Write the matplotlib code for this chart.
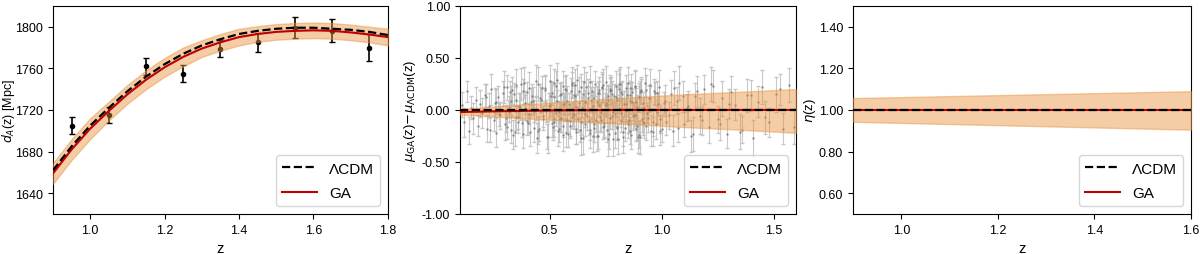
import matplotlib
matplotlib.use('Agg')
import matplotlib.pyplot as plt
from matplotlib.ticker import FormatStrFormatter

plt.rcParams['font.family'] = ['Liberation Sans', 'DejaVu Sans']
plt.rcParams['mathtext.fontset'] = 'dejavusans'

# ---- panel 1: angular diameter distance ----
da_z = [0.95, 1.05, 1.15, 1.25, 1.35, 1.45, 1.55, 1.65, 1.75]
da_obs = [1705, 1715, 1762, 1755, 1779, 1785, 1799, 1796, 1780]
da_err = [8, 8, 8, 8, 8, 9, 10, 11, 13]

zgrid = [0.90, 0.95, 1.00, 1.05, 1.10, 1.15, 1.20, 1.25, 1.30, 1.35,
         1.40, 1.45, 1.50, 1.55, 1.60, 1.65, 1.70, 1.75, 1.80]
da_lcdm = [1662, 1685, 1705, 1722, 1738, 1752, 1764, 1774, 1782, 1788,
           1793, 1796, 1798, 1799, 1799, 1798, 1797, 1795, 1792]
da_ga = [1659, 1682, 1702, 1719, 1735, 1749, 1761, 1771, 1779, 1785,
         1790, 1793, 1795, 1796, 1796.5, 1796, 1794.5, 1792.5, 1790]
da_ga_lo = [1649, 1672, 1692, 1710, 1726, 1740, 1752, 1762, 1771, 1777,
            1782, 1785.5, 1787.5, 1788.5, 1789, 1788.5, 1787, 1785, 1782]
da_ga_hi = [1669, 1692, 1712, 1728, 1744, 1758, 1770, 1780, 1787, 1793,
            1798, 1800.5, 1802.5, 1803.5, 1804, 1803.5, 1802, 1800, 1798]

# ---- panel 2: distance modulus residuals ----
sn_z = [0.11, 0.12, 0.13, 0.14, 0.15, 0.16, 0.17, 0.18, 0.19, 0.20,
        0.21, 0.22, 0.23, 0.24, 0.25, 0.26, 0.26, 0.27, 0.28, 0.29,
        0.30, 0.31, 0.32, 0.33, 0.33, 0.34, 0.35, 0.35, 0.36, 0.37,
        0.38, 0.38, 0.39, 0.40, 0.41, 0.41, 0.42, 0.43, 0.44, 0.45,
        0.45, 0.46, 0.47, 0.48, 0.49, 0.50, 0.50, 0.51, 0.52, 0.52,
        0.53, 0.54, 0.54, 0.55, 0.56, 0.56, 0.57, 0.58, 0.58, 0.59,
        0.60, 0.60, 0.61, 0.62, 0.62, 0.63, 0.64, 0.64, 0.65, 0.66,
        0.66, 0.67, 0.68, 0.68, 0.69, 0.70, 0.70, 0.71, 0.72, 0.72,
        0.73, 0.74, 0.74, 0.75, 0.76, 0.76, 0.77, 0.78, 0.78, 0.79,
        0.80, 0.80, 0.81, 0.82, 0.82, 0.83, 0.84, 0.84, 0.85, 0.86,
        0.86, 0.87, 0.88, 0.88, 0.89, 0.90, 0.90, 0.91, 0.92, 0.92,
        0.93, 0.94, 0.95, 0.96, 0.97, 0.98, 0.99, 1.00, 1.01, 1.02,
        1.04, 1.05, 1.07, 1.08, 1.10, 1.12, 1.13, 1.15, 1.17, 1.19,
        1.21, 1.23, 1.25, 1.27, 1.29, 1.31, 1.33, 1.36, 1.38, 1.41,
        1.43, 1.45, 1.48, 1.51, 1.54, 1.57,
        0.305, 0.325, 0.345, 0.365, 0.385, 0.405, 0.425, 0.445, 0.465, 0.485,
        0.505, 0.515, 0.535, 0.545, 0.565, 0.575, 0.595, 0.605, 0.615, 0.635,
        0.645, 0.655, 0.675, 0.685, 0.695, 0.715, 0.725, 0.735, 0.745, 0.755,
        0.765, 0.775, 0.785, 0.795, 0.805, 0.815, 0.825, 0.835, 0.845, 0.855,
        0.865, 0.875, 0.885, 0.895, 0.905, 0.915, 0.925, 0.935, 0.945, 0.955,
        0.965, 0.975, 0.985, 0.995,
        0.215, 0.235, 0.255, 0.275, 0.295, 0.312, 0.318, 0.332, 0.338, 0.352,
        0.358, 0.372, 0.378, 0.392, 0.398, 0.412, 0.418, 0.432, 0.438, 0.452,
        0.458, 0.472, 0.478, 0.492, 0.498, 0.512, 0.518, 0.522, 0.528, 0.532,
        0.538, 0.548, 0.552, 0.558, 0.562, 0.568, 0.572, 0.582, 0.588, 0.592,
        0.598, 0.608, 0.612, 0.618, 0.622, 0.628, 0.632, 0.642, 0.648, 0.652,
        0.658, 0.662, 0.668, 0.672, 0.682, 0.688, 0.692, 0.698, 0.702, 0.708,
        0.712, 0.718, 0.722, 0.728, 0.732, 0.742, 0.748, 0.752, 0.758, 0.762,
        0.768, 0.772, 0.782, 0.788, 0.792, 0.798, 0.802, 0.808, 0.812, 0.818,
        0.822, 0.828, 0.832, 0.842, 0.848, 0.852, 0.858, 0.862, 0.868, 0.872,
        0.882, 0.888, 0.892, 0.898, 0.902, 0.908, 0.912, 0.918, 0.932, 0.948,
        0.962, 0.978, 0.992, 1.015, 1.035, 1.055, 1.075, 1.095, 1.115, 1.14,
        1.16, 1.18, 1.22, 1.26, 1.30, 1.35, 1.40, 1.46, 1.53, 1.59]
sn_dmu = [0.05, -0.12, 0.18, -0.20, 0.02, -0.08, 0.10, -0.15, 0.06, -0.03,
          0.14, -0.18, 0.04, 0.20, -0.10, 0.08, -0.22, 0.12, -0.05, 0.16,
          -0.14, 0.22, -0.02, 0.09, -0.19, 0.15, -0.07, 0.24, -0.12, 0.03,
          0.18, -0.23, 0.07, -0.11, 0.21, -0.04, 0.13, -0.17, 0.01, 0.25,
          -0.20, 0.10, -0.06, 0.19, -0.26, 0.05, 0.28, -0.13, 0.12, -0.09,
          0.23, -0.02, -0.18, 0.15, 0.06, -0.24, 0.20, -0.10, 0.09, -0.15,
          0.26, -0.07, 0.14, -0.21, 0.03, 0.18, -0.12, 0.22, -0.27, 0.08,
          -0.04, 0.16, -0.19, 0.27, 0.01, -0.14, 0.11, -0.25, 0.19, 0.05,
          -0.10, 0.24, -0.16, 0.07, -0.28, 0.13, 0.20, -0.06, 0.15, -0.22,
          0.10, -0.17, 0.25, -0.03, 0.17, -0.26, 0.06, 0.21, -0.11, 0.14,
          -0.20, 0.08, -0.05, 0.23, -0.15, 0.12, -0.24, 0.18, 0.02, -0.13,
          0.19, -0.08, 0.11, -0.21, 0.16, -0.02, 0.22, -0.18, 0.07, -0.12,
          0.15, -0.20, 0.09, 0.26, -0.14, 0.04, -0.25, 0.13, -0.06, 0.20,
          -0.16, 0.23, -0.09, 0.11, -0.23, 0.17, 0.05, -0.19, 0.14, -0.27,
          0.08, 0.22, -0.12, 0.15, -0.18, 0.24,
          -0.08, 0.17, -0.21, 0.04, 0.26, -0.13, 0.09, -0.27, 0.21, -0.01,
          0.13, -0.16, 0.29, -0.09, 0.06, -0.22, 0.18, -0.04, 0.24, -0.19,
          0.02, 0.27, -0.11, 0.10, -0.25, 0.16, -0.07, 0.22, -0.15, 0.05,
          -0.23, 0.19, -0.02, 0.12, -0.28, 0.25, 0.01, -0.17, 0.14, -0.10,
          0.21, -0.05, 0.08, -0.26, 0.17, -0.12, 0.26, -0.03, 0.11, -0.20,
          0.18, -0.14, 0.06, -0.09,
          0.12, -0.19, 0.07, -0.04, 0.22, -0.16, 0.03, 0.19, -0.24, 0.10,
          -0.07, 0.25, -0.13, 0.02, 0.17, -0.21, 0.08, -0.01, 0.28, -0.18,
          0.11, -0.09, 0.21, -0.26, 0.04, 0.16, -0.12, 0.26, -0.03, 0.09,
          -0.20, 0.14, -0.08, 0.23, -0.15, 0.01, 0.19, -0.23, 0.06, -0.11,
          0.24, -0.05, 0.13, -0.18, 0.29, -0.09, 0.07, -0.27, 0.15, 0.00,
          -0.14, 0.22, -0.06, 0.11, -0.22, 0.18, 0.04, -0.17, 0.25, -0.10,
          0.08, -0.25, 0.16, -0.02, 0.21, -0.13, 0.05, 0.27, -0.19, 0.10,
          -0.08, 0.18, -0.28, 0.13, -0.04, 0.23, -0.16, 0.02, 0.20, -0.11,
          0.15, -0.21, 0.06, -0.01, 0.26, -0.14, 0.09, -0.24, 0.17, -0.06,
          0.22, -0.18, 0.03, 0.12, -0.26, 0.19, -0.09, 0.07, -0.15, 0.24,
          -0.12, 0.16, -0.20, 0.09, -0.05, 0.21, -0.17, 0.13, 0.02, -0.23,
          0.18, -0.10, 0.25, -0.14, 0.06, -0.21, 0.14, -0.07, 0.20, -0.16]
sn_err = [0.12, 0.14, 0.10, 0.13, 0.11, 0.15, 0.12, 0.10, 0.13, 0.14,
          0.11, 0.13, 0.12, 0.15, 0.10, 0.12, 0.14, 0.11, 0.13, 0.12,
          0.15, 0.12, 0.10, 0.14, 0.13, 0.11, 0.12, 0.15, 0.10, 0.13,
          0.12, 0.14, 0.11, 0.13, 0.15, 0.10, 0.12, 0.14, 0.11, 0.16,
          0.13, 0.12, 0.10, 0.14, 0.12, 0.11, 0.15, 0.13, 0.12, 0.10,
          0.14, 0.11, 0.13, 0.12, 0.10, 0.15, 0.13, 0.11, 0.14, 0.12,
          0.15, 0.10, 0.13, 0.12, 0.11, 0.14, 0.12, 0.13, 0.15, 0.11,
          0.12, 0.14, 0.10, 0.15, 0.13, 0.12, 0.11, 0.14, 0.13, 0.10,
          0.11, 0.15, 0.12, 0.13, 0.16, 0.10, 0.14, 0.12, 0.13, 0.15,
          0.12, 0.11, 0.14, 0.13, 0.10, 0.15, 0.12, 0.13, 0.11, 0.14,
          0.13, 0.12, 0.10, 0.15, 0.14, 0.11, 0.13, 0.12, 0.10, 0.14,
          0.15, 0.13, 0.12, 0.14, 0.11, 0.12, 0.16, 0.13, 0.10, 0.12,
          0.14, 0.15, 0.13, 0.16, 0.12, 0.14, 0.15, 0.13, 0.17, 0.14,
          0.16, 0.15, 0.13, 0.17, 0.14, 0.16, 0.15, 0.13, 0.16, 0.17,
          0.15, 0.16, 0.14, 0.17, 0.15, 0.16,
          0.13, 0.11, 0.14, 0.12, 0.15, 0.10, 0.13, 0.14, 0.12, 0.11,
          0.15, 0.13, 0.16, 0.12, 0.10, 0.14, 0.13, 0.11, 0.15, 0.12,
          0.10, 0.14, 0.13, 0.12, 0.15, 0.11, 0.13, 0.14, 0.12, 0.10,
          0.15, 0.13, 0.11, 0.12, 0.14, 0.16, 0.10, 0.13, 0.12, 0.11,
          0.14, 0.12, 0.13, 0.15, 0.11, 0.12, 0.14, 0.10, 0.13, 0.15,
          0.12, 0.14, 0.11, 0.13,
          0.13, 0.12, 0.14, 0.11, 0.15, 0.12, 0.10, 0.13, 0.14, 0.12,
          0.11, 0.15, 0.13, 0.12, 0.10, 0.14, 0.13, 0.11, 0.15, 0.12,
          0.14, 0.10, 0.13, 0.15, 0.12, 0.11, 0.14, 0.13, 0.12, 0.10,
          0.15, 0.12, 0.13, 0.14, 0.11, 0.12, 0.15, 0.13, 0.10, 0.14,
          0.12, 0.13, 0.11, 0.15, 0.14, 0.12, 0.10, 0.16, 0.13, 0.12,
          0.11, 0.14, 0.13, 0.12, 0.15, 0.10, 0.13, 0.14, 0.12, 0.11,
          0.15, 0.13, 0.12, 0.10, 0.14, 0.13, 0.11, 0.15, 0.12, 0.14,
          0.10, 0.13, 0.16, 0.12, 0.11, 0.14, 0.13, 0.12, 0.15, 0.10,
          0.13, 0.14, 0.12, 0.11, 0.15, 0.13, 0.12, 0.14, 0.10, 0.13,
          0.15, 0.12, 0.11, 0.14, 0.16, 0.13, 0.12, 0.10, 0.14, 0.15,
          0.13, 0.12, 0.14, 0.15, 0.13, 0.16, 0.14, 0.15, 0.13, 0.16,
          0.15, 0.14, 0.16, 0.15, 0.14, 0.17, 0.15, 0.16, 0.15, 0.17]

mu_zgrid = [0.1, 0.3, 0.5, 0.7, 0.9, 1.1, 1.3, 1.6]
mu_ga = [-0.02, -0.012, -0.005, -0.002, 0.0, 0.0, 0.0, 0.0]
mu_ga_lo = [-0.045, -0.07, -0.095, -0.12, -0.14, -0.165, -0.185, -0.22]
mu_ga_hi = [0.01, 0.04, 0.07, 0.10, 0.125, 0.15, 0.17, 0.20]
mu_lcdm = [0, 0, 0, 0, 0, 0, 0, 0]

# ---- panel 3: eta ----
eta_z = [0.9, 1.6]
eta_ga = [1.0, 1.0]
eta_lo = [0.943, 0.905]
eta_hi = [1.057, 1.09]
eta_lcdm = [1.0, 1.0]

band = dict(color='#e8913a', alpha=0.45, lw=1)

fig = plt.figure(figsize=(12, 2.55), dpi=100)
ax1 = fig.add_axes([0.0442, 0.157, 0.279, 0.816])
ax2 = fig.add_axes([0.3833, 0.157, 0.280, 0.816])
ax3 = fig.add_axes([0.7108, 0.157, 0.2817, 0.816])

# panel 1
ax1.errorbar(da_z, da_obs, yerr=da_err, fmt='o', color='k', ms=3,
             capsize=2, elinewidth=1.2, zorder=2)
ax1.fill_between(zgrid, da_ga_lo, da_ga_hi, zorder=3, **band)
ax1.plot(zgrid, da_ga, color='#c00000', lw=1.5, label='GA', zorder=4)
ax1.plot(zgrid, da_lcdm, 'k--', lw=1.6, label='ΛCDM', zorder=5)
ax1.set_xlim(0.9, 1.8)
ax1.set_ylim(1620, 1820)
ax1.set_yticks([1640, 1680, 1720, 1760, 1800])
ax1.set_xticks([1.0, 1.2, 1.4, 1.6, 1.8])
ax1.xaxis.set_major_formatter(FormatStrFormatter('%.1f'))
ax1.set_ylabel(r'$d_A$(z) [Mpc]', fontsize=9)
ax1.yaxis.set_label_coords(-0.108, 0.5)

# panel 2
ax2.errorbar(sn_z, sn_dmu, yerr=sn_err, fmt='.', color='gray', ms=1.5,
             ecolor='#bcbcbc', elinewidth=0.8, capsize=1.5, alpha=0.8, zorder=2)
ax2.fill_between(mu_zgrid, mu_ga_lo, mu_ga_hi, zorder=3, **band)
ax2.plot(mu_zgrid, mu_ga, color='#c00000', lw=1.5, label='GA', zorder=4)
ax2.plot(mu_zgrid, mu_lcdm, 'k--', lw=1.6, label='ΛCDM', zorder=5)
ax2.set_xlim(0.1, 1.6)
ax2.set_ylim(-1, 1)
ax2.set_yticks([-1, -0.5, 0, 0.5, 1])
ax2.set_xticks([0.5, 1.0, 1.5])
ax2.xaxis.set_major_formatter(FormatStrFormatter('%.1f'))
ax2.yaxis.set_major_formatter(FormatStrFormatter('%.2f'))
ax2.set_ylabel(r'$\mu_{\rm GA}$(z)$-\mu_{\Lambda\rm CDM}$(z)', fontsize=9.5)
ax2.yaxis.set_label_coords(-0.125, 0.5)

# panel 3
ax3.fill_between(eta_z, eta_lo, eta_hi, zorder=3, **band)
ax3.plot(eta_z, eta_ga, color='#c00000', lw=1.5, label='GA', zorder=4)
ax3.plot(eta_z, eta_lcdm, 'k--', lw=1.6, label='ΛCDM', zorder=5)
ax3.set_xlim(0.9, 1.6)
ax3.set_ylim(0.5, 1.5)
ax3.set_yticks([0.6, 0.8, 1.0, 1.2, 1.4])
ax3.set_xticks([1.0, 1.2, 1.4, 1.6])
ax3.xaxis.set_major_formatter(FormatStrFormatter('%.1f'))
ax3.yaxis.set_major_formatter(FormatStrFormatter('%.2f'))
ax3.set_ylabel(r'$\eta$(z)', fontsize=9.5)
ax3.yaxis.set_label_coords(-0.102, 0.5)

for ax in (ax1, ax2, ax3):
    ax.set_xlabel('z', fontsize=10.5)
    ax.tick_params(labelsize=9)
    h, l = ax.get_legend_handles_labels()
    ax.legend(h[::-1], l[::-1], loc='lower right', fontsize=11,
              handlelength=2.3, labelspacing=0.7)

fig.savefig('out.png', dpi=100)
